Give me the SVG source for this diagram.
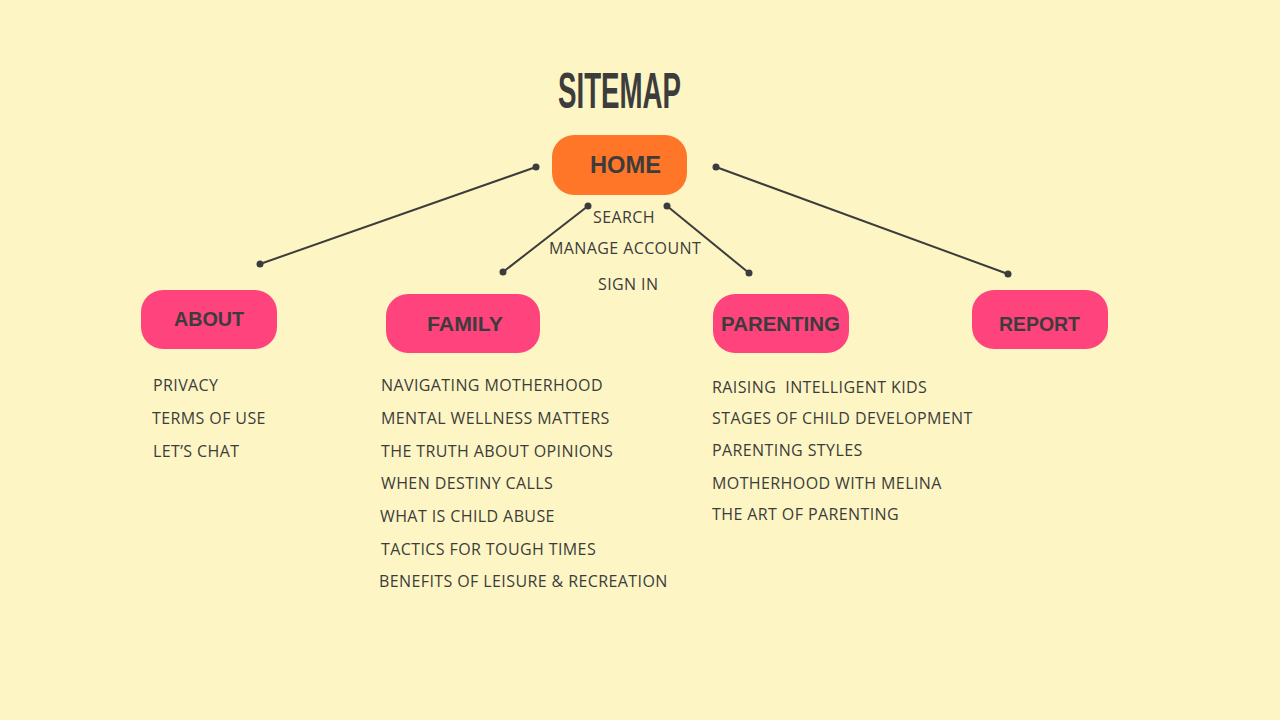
<svg xmlns="http://www.w3.org/2000/svg" width="1280" height="720" viewBox="0 0 1280 720">
  <style>
    .bg { fill: #FDF6C4; }
    .home { fill: #FF7629; }
    .page { fill: #FF437D; }
    .label { font-family: "Liberation Sans", Arial, sans-serif; font-weight: bold; fill: #3C3C3C; }
    .item { font-family: "Open Sans", "Liberation Sans", sans-serif; font-size: 16px; letter-spacing: 0.4px; fill: #3C3C3C; }
    .title { font-family: "Liberation Sans", Arial, sans-serif; font-weight: bold; font-size: 50px; fill: #3C3C3C; }
    .link { stroke: #3C3C3C; stroke-width: 2; fill: none; }
    .dot { fill: #3C3C3C; }
  </style>

  <rect class="bg" x="0" y="0" width="1280" height="720"/>

  <text class="title" x="558" y="108" textLength="123" lengthAdjust="spacingAndGlyphs">SITEMAP</text>

  <!-- connectors from HOME to each section -->
  <g id="connectors">
    <line class="link" x1="536" y1="167" x2="260" y2="264"/>
    <circle class="dot" cx="536" cy="167" r="3.5"/>
    <circle class="dot" cx="260" cy="264" r="3.5"/>

    <line class="link" x1="588" y1="206" x2="503" y2="272"/>
    <circle class="dot" cx="588" cy="206" r="3.5"/>
    <circle class="dot" cx="503" cy="272" r="3.5"/>

    <line class="link" x1="667" y1="206" x2="749" y2="273"/>
    <circle class="dot" cx="667" cy="206" r="3.5"/>
    <circle class="dot" cx="749" cy="273" r="3.5"/>

    <line class="link" x1="716" y1="167" x2="1008" y2="274"/>
    <circle class="dot" cx="716" cy="167" r="3.5"/>
    <circle class="dot" cx="1008" cy="274" r="3.5"/>
  </g>

  <g id="home">
    <rect class="home" x="552" y="135" width="135" height="60" rx="22"/>
    <text class="label" x="590" y="173" font-size="24" textLength="71" lengthAdjust="spacingAndGlyphs">HOME</text>
    <text class="item" x="593" y="223">SEARCH</text>
    <text class="item" x="549" y="254">MANAGE ACCOUNT</text>
    <text class="item" x="598" y="290">SIGN IN</text>
  </g>

  <g id="about">
    <rect class="page" x="141" y="290" width="136" height="59" rx="22"/>
    <text class="label" x="174" y="326" font-size="20" textLength="70" lengthAdjust="spacingAndGlyphs">ABOUT</text>
    <text class="item" x="153" y="391">PRIVACY</text>
    <text class="item" x="152" y="424">TERMS OF USE</text>
    <text class="item" x="153" y="457">LET’S CHAT</text>
  </g>

  <g id="family">
    <rect class="page" x="386" y="294" width="154" height="59" rx="22"/>
    <text class="label" x="427" y="331" font-size="20" textLength="76" lengthAdjust="spacingAndGlyphs">FAMILY</text>
    <text class="item" x="381" y="391">NAVIGATING MOTHERHOOD</text>
    <text class="item" x="381" y="424">MENTAL WELLNESS MATTERS</text>
    <text class="item" x="381" y="457">THE TRUTH ABOUT OPINIONS</text>
    <text class="item" x="381" y="489">WHEN DESTINY CALLS</text>
    <text class="item" x="380" y="522">WHAT IS CHILD ABUSE</text>
    <text class="item" x="381" y="555">TACTICS FOR TOUGH TIMES</text>
    <text class="item" x="379" y="587">BENEFITS OF LEISURE &amp; RECREATION</text>
  </g>

  <g id="parenting">
    <rect class="page" x="713" y="294" width="136" height="59" rx="22"/>
    <text class="label" x="721" y="331" font-size="20" textLength="119" lengthAdjust="spacingAndGlyphs">PARENTING</text>
    <text class="item" x="712" y="393" xml:space="preserve">RAISING  INTELLIGENT KIDS</text>
    <text class="item" x="712" y="424">STAGES OF CHILD DEVELOPMENT</text>
    <text class="item" x="712" y="456">PARENTING STYLES</text>
    <text class="item" x="712" y="489">MOTHERHOOD WITH MELINA</text>
    <text class="item" x="712" y="520">THE ART OF PARENTING</text>
  </g>

  <g id="report">
    <rect class="page" x="972" y="290" width="136" height="59" rx="22"/>
    <text class="label" x="999" y="331" font-size="20" textLength="81" lengthAdjust="spacingAndGlyphs">REPORT</text>
  </g>
</svg>
